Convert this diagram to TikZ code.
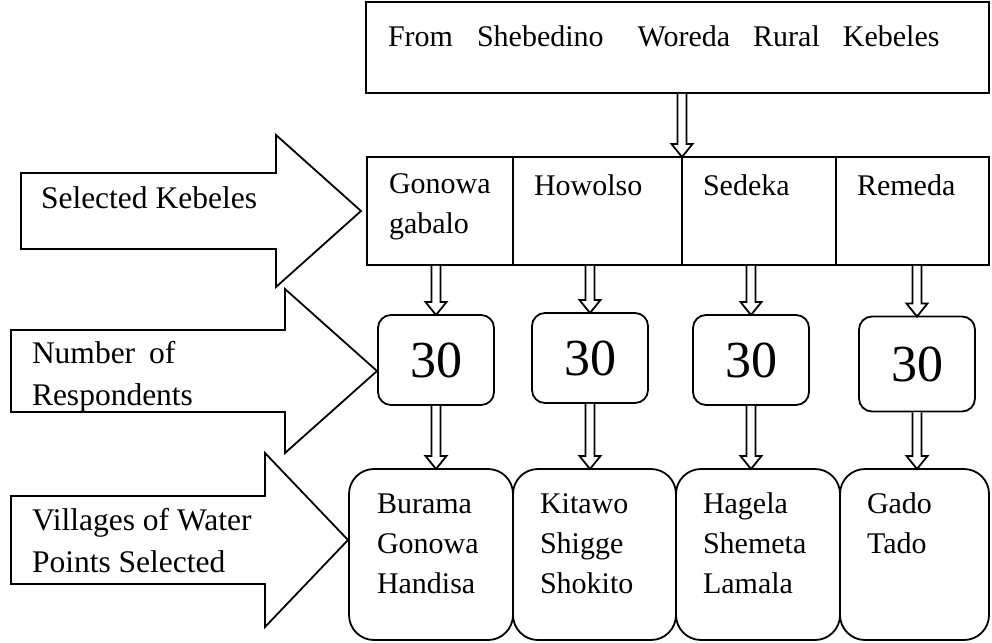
\documentclass[tikz,border=0pt]{standalone}
\usepackage{fontspec}
\setmainfont{Liberation Serif}
\usetikzlibrary{positioning,calc}

\begin{document}
\begin{tikzpicture}[
  x=1pt, y=-1pt,
  every node/.style={font=\fontsize{30}{40}\selectfont, inner sep=0pt, outer sep=0pt},
  cellbox/.style ={draw, line width=1.8pt, minimum height=108pt},
  countbox/.style={draw, line width=1.8pt, rounded corners=13pt, minimum width=116pt,
                   minimum height=90pt, font=\fontsize{52}{60}\selectfont},
  villbox/.style ={draw, line width=1.8pt, rounded corners=25pt, minimum height=171pt},
  txt/.style     ={anchor=base west, align=left},
  sidetxt/.style ={txt, font=\fontsize{31.5}{42}\selectfont},
  hollow/.style  ={draw, fill=white, line width=1.8pt},
  bigarrow/.style={draw, fill=white, line width=1.8pt}]

% hollow block arrow pointing down: x and start from #1, tip at #2
\newcommand{\flowdown}[2]{%
  \path[hollow] let \p1=(#1), \p2=(#2) in
    (\x1-4.5pt,\y1-0.9pt) -- (\x1-4.5pt,\y2+13pt) -- (\x1-10.5pt,\y2+13pt) -- (\x1,\y2)
    -- (\x1+10.5pt,\y2+13pt) -- (\x1+4.5pt,\y2+13pt) -- (\x1+4.5pt,\y1-0.9pt);}
% wide arrow pointing right: left x, centre y, half shaft, head x, half head, tip x
\newcommand{\sidearrow}[6]{%
  \path[bigarrow] (#1,#2-#3) -- (#4,#2-#3) -- (#4,#2-#5) -- (#6,#2)
    -- (#4,#2+#5) -- (#4,#2+#3) -- (#1,#2+#3) -- cycle;}

\useasboundingbox (0,0) rectangle (992,642);

% ===========================  side arrows  ===========================
\sidearrow{21}{211}{38}{276}{76}{361}
\sidearrow{11}{371}{41}{285}{82}{377}
\sidearrow{11}{540}{44}{265}{87}{348}

% (base west of a multi-line node sits on its last line)
\node[sidetxt] (selkeb) at (41,208) {Selected Kebeles};
\node[sidetxt] (numres) at (32,405) {Number\hspace{14pt}of\\Respondents};
\node[sidetxt] (vilwat) at (32,572) {Villages of Water\\Points Selected};

% ===========================  woreda  ================================
\node[cellbox, minimum width=623pt, minimum height=91pt, anchor=north west] (src) at (366,2) {};
\node[txt] (srctext) at ($(src.north west)+(22,45)$)
  {From\hspace{24pt}Shebedino\hspace{34pt}Woreda\hspace{23pt}Rural\hspace{23pt}Kebeles};

% ===========================  kebeles  ===============================
\node[cellbox, minimum width=146pt, anchor=north west] (k1) at (367,157) {};
\node[cellbox, minimum width=169pt, right=0pt of k1] (k2) {};
\node[cellbox, minimum width=154pt, right=0pt of k2] (k3) {};
\node[cellbox, minimum width=153pt, right=0pt of k3] (k4) {};

\node[txt] (k1text) at ($(k1.north west)+(22,76)$) {Gonowa\\gabalo};
\node[txt] (k2text) at ($(k2.north west)+(21,38)$) {Howolso};
\node[txt] (k3text) at ($(k3.north west)+(21,38)$) {Sedeka};
\node[txt] (k4text) at ($(k4.north west)+(21,38)$) {Remeda};

% ===========================  respondents  ===========================
\node[countbox] (n1) at (436,360) {30};
\node[countbox] (n2) at (590,358) {30};
\node[countbox] (n3) at (751,360) {30};
\node[countbox, minimum height=95pt] (n4) at (917,364) {30};

% ===========================  villages  ==============================
\node[villbox, minimum width=164pt, anchor=north west] (v1) at (349,469) {};
\node[villbox, minimum width=163pt, right=0pt of v1] (v2) {};
\node[villbox, minimum width=164pt, right=0pt of v2] (v3) {};
\node[villbox, minimum width=149pt, right=0pt of v3] (v4) {};

\node[txt] (v1text) at ($(v1.north west)+(28,124)$) {Burama\\Gonowa\\Handisa};
\node[txt] (v2text) at ($(v2.north west)+(27,124)$) {Kitawo\\Shigge\\Shokito};
\node[txt] (v3text) at ($(v3.north west)+(27,124)$) {Hagela\\Shemeta\\Lamala};
\node[txt] (v4text) at ($(v4.north west)+(27,84)$) {Gado\\Tado};

% ===========================  flow  ==================================
\flowdown{src.south -| k2.north east}{k2.north east}
\foreach \i in {1,...,4}{
  \flowdown{k\i.south -| n\i}{n\i.north}
  \flowdown{n\i.south}{v\i.north -| n\i}
}

\end{tikzpicture}
\end{document}
